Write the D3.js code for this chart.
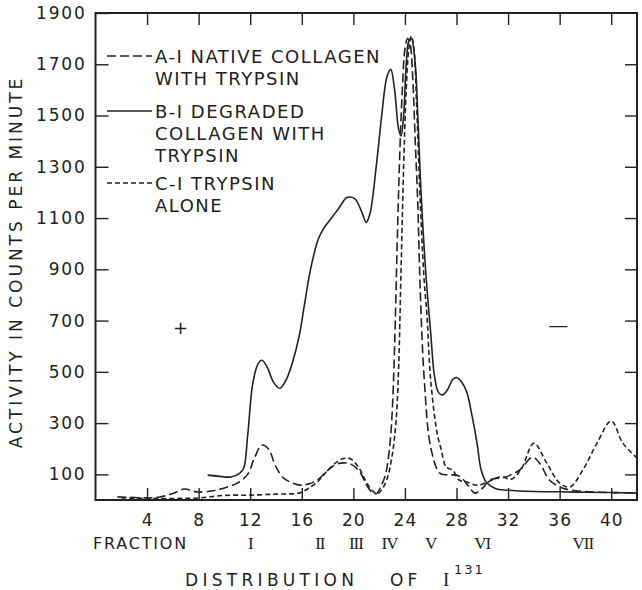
<!DOCTYPE html>
<meta charset="utf-8">
<html lang="en">
<head>
    <title>Distribution of I131</title>
    <script src="https://cdn.jsdelivr.net/npm/d3@7"></script>
</head>
<style>
    body{ margin:0; background:#fff; }
    svg{ display:block; }
    text{
        font-family: "DejaVu Sans", sans-serif;
        fill: #222;
    }
    .roman{ font-family: "Liberation Serif", "DejaVu Serif", serif; }
    .curve{ fill:none; stroke:#222; stroke-width:1.6px; }
</style>
<body>
<svg width="642" height="590"></svg>
<script>

    // axis ticks
    const xTicks = [4, 8, 12, 16, 20, 24, 28, 32, 36, 40]
    const yTicks = [100, 300, 500, 700, 900, 1100, 1300, 1500, 1700, 1900]

    // A-I native collagen with trypsin (long dash)
    const aFraction = [1.7, 3, 4, 5, 6, 6.9, 7.5, 8, 9, 10, 11, 11.8, 12.3, 12.9, 13.4, 14, 14.6, 15.3, 15.9,
        16.5, 17.2, 18, 18.7, 19.2, 19.8, 20.5, 21, 21.5, 21.8, 22.2, 22.5, 22.8, 23, 23.2, 23.4, 23.6, 23.8,
        24, 24.2, 24.4, 24.6, 24.8, 25, 25.2, 25.5, 26, 26.7, 27.3, 28, 28.4, 29, 29.4, 30, 30.6, 31.8, 32.9,
        33.9, 34.5, 35.2, 36.2, 37.5, 39, 42]
    const aCounts = [12, 10, 8, 12, 25, 43, 35, 31, 35, 47, 66, 100, 160, 214, 200, 129, 85, 66, 58,
        62, 78, 115, 140, 145, 140, 110, 60, 28, 25, 60, 100, 200, 330, 600, 1000, 1350, 1600,
        1760, 1800, 1780, 1650, 1400, 1150, 800, 470, 206, 105, 98, 97, 86, 50, 27, 45, 78, 90, 117,
        167, 140, 78, 47, 35, 30, 28]

    // B-I degraded collagen with trypsin (solid)
    const bFraction = [8.7, 9.5, 10.5, 11.2, 11.5, 11.8, 12.2, 12.6, 12.9, 13.3, 13.8, 14.3, 14.8, 15.3, 15.8,
        16.2, 16.6, 17, 17.3, 17.7, 18.3, 18.9, 19.5, 20.1, 20.6, 21, 21.3, 21.8, 22.2, 22.6, 22.9, 23.2, 23.5,
        23.7, 23.9, 24.1, 24.3, 24.5, 24.8, 25, 25.2, 25.6, 26, 26.3, 26.6, 26.9, 27.3, 27.7, 28, 28.4, 28.8,
        29.2, 29.6, 29.9, 30.3, 31, 32, 34, 36, 38, 40, 42]
    const bCounts = [97, 93, 90, 105, 125, 250, 455, 530, 545, 520, 460, 436, 470, 540, 640,
        760, 880, 970, 1020, 1060, 1100, 1140, 1180, 1176, 1130, 1083, 1120, 1313, 1500, 1650, 1680, 1600, 1450,
        1420, 1500, 1700, 1790, 1800, 1700, 1500, 1250, 900, 650, 480, 420, 410, 430, 470, 478, 460, 420,
        330, 220, 120, 70, 45, 38, 33, 32, 30, 29, 27]

    // C-I trypsin alone (short dash)
    const cFraction = [2, 4, 6, 8, 10, 12, 14, 15.5, 16, 16.5, 17.2, 18, 18.7, 19.3, 19.8, 20.5, 21, 21.5,
        21.9, 22.2, 22.6, 23, 23.3, 23.5, 23.7, 23.9, 24.1, 24.3, 24.5, 24.7, 24.9, 25.2, 25.5, 25.7, 26,
        26.5, 26.8, 27.2, 27.7, 28.2, 28.8, 29.6, 30.4, 31.4, 32.3, 33.1, 34, 35, 36, 36.8, 37.8, 38.9,
        40, 40.9, 42]
    const cCounts = [8, 6, 6, 8, 18, 19, 23, 25, 30, 45, 70, 115, 148, 163, 160, 120, 70, 35,
        25, 40, 80, 170, 300, 500, 900, 1300, 1600, 1760, 1810, 1760, 1550, 1150, 850, 728, 467,
        260, 200, 129, 117, 78, 70, 58, 70, 90, 82, 129, 222, 144, 66, 51, 117, 222,
        308, 222, 164]

    // fraction groups under the axis
    const fractionNames = ["I", "II", "III", "IV", "V", "VI", "VII"]
    const fractionAt = [12, 17.4, 20.2, 22.8, 26, 30, 37.8]

    const legendNames = [["A-I NATIVE COLLAGEN", "WITH TRYPSIN"],
        ["B-I DEGRADED", "COLLAGEN WITH", "TRYPSIN"],
        ["C-I TRYPSIN", "ALONE"]]
    const dashes = ["9,4", null, "5,3"]

    const svg = d3.select("svg")

    const x = d3.scaleLinear().domain([0, 42]).range([95.5, 637])
    const y = d3.scaleLinear().domain([0, 1900]).range([500, 13])

    // frame
    svg.append("rect")
        .attr("x", x(0)).attr("y", y(1900))
        .attr("width", x(42) - x(0)).attr("height", y(0) - y(1900))
        .attr("fill", "none").attr("stroke", "#222").attr("stroke-width", 2)

    // ticks, all pointing inward
    svg.append("g").attr("transform", `translate(0,${y(0)})`)
        .call(d3.axisBottom(x).tickValues(xTicks).tickSize(-12).tickPadding(14))
        .call(g => g.select(".domain").remove())
        .call(g => g.selectAll("text").attr("font-size", 17).attr("letter-spacing", 1))
    svg.append("g").attr("transform", `translate(0,${y(1900)})`)
        .call(d3.axisTop(x).tickValues(xTicks).tickSize(-12).tickFormat(""))
        .call(g => g.select(".domain").remove())
    svg.append("g").attr("transform", `translate(${x(0)},0)`)
        .call(d3.axisLeft(y).tickValues(yTicks).tickSize(-13).tickPadding(9).tickFormat(d3.format("d")))
        .call(g => g.select(".domain").remove())
        .call(g => g.selectAll("text").attr("font-size", 17).attr("letter-spacing", 1.8))
    svg.append("g").attr("transform", `translate(${x(42)},0)`)
        .call(d3.axisRight(y).tickValues(yTicks.filter(v => v < 1900)).tickSize(-12).tickFormat(""))
        .call(g => g.select(".domain").remove())
    svg.selectAll(".tick line").attr("stroke", "#222").attr("stroke-width", 1.4)

    // curves
    const line = d3.line().x(d => x(d[0])).y(d => y(d[1])).curve(d3.curveCatmullRom.alpha(0.5))
    const series = [
        d3.zip(aFraction, aCounts),
        d3.zip(bFraction, bCounts),
        d3.zip(cFraction, cCounts)
    ]
    svg.selectAll(".curve")
        .data(series)
        .enter()
        .append("path")
        .attr("class", "curve")
        .attr("d", line)
        .attr("stroke-dasharray", (d, i) => dashes[i])

    // legend
    const legendY = [56, 111, 183]
    legendNames.forEach(function(lines, i) {
        svg.append("line")
            .attr("x1", 107).attr("x2", 152)
            .attr("y1", legendY[i]).attr("y2", legendY[i])
            .attr("stroke", "#222").attr("stroke-width", 1.6)
            .attr("stroke-dasharray", dashes[i])
        lines.forEach(function(t, j) {
            svg.append("text")
                .attr("x", 155).attr("y", legendY[i] + j * 22 + 7)
                .attr("font-size", 18).attr("letter-spacing", 1.5)
                .text(t)
        })
    })

    // polarity marks
    svg.append("text").attr("x", x(6.6)).attr("y", y(670) + 6)
        .attr("text-anchor", "middle").attr("font-size", 18).text("+")
    svg.append("text").attr("x", x(35.9)).attr("y", y(680) + 6)
        .attr("text-anchor", "middle").attr("font-size", 20).text("—")

    // fraction row
    svg.append("text").attr("x", 93).attr("y", 549)
        .attr("font-size", 16).attr("letter-spacing", 1.8).text("FRACTION")
    svg.selectAll(".roman")
        .data(fractionNames)
        .enter()
        .append("text")
        .attr("class", "roman")
        .attr("x", (d, i) => x(fractionAt[i]))
        .attr("y", 549)
        .attr("text-anchor", "middle")
        .attr("font-size", 17)
        .attr("letter-spacing", -1)
        .text(d => d)

    // axis titles
    svg.append("text").attr("x", 185).attr("y", 586)
        .attr("font-size", 17).attr("letter-spacing", 4.3).text("DISTRIBUTION")
    svg.append("text").attr("x", 390).attr("y", 586)
        .attr("font-size", 17).attr("letter-spacing", 4).text("OF")
    svg.append("text").attr("class", "roman").attr("x", 443).attr("y", 586)
        .attr("font-size", 19).text("I")
    svg.append("text").attr("x", 454).attr("y", 574)
        .attr("font-size", 13).attr("letter-spacing", 2).text("131")

    svg.append("text")
        .attr("transform", "translate(22,262) rotate(-90)")
        .attr("text-anchor", "middle")
        .attr("font-size", 17).attr("letter-spacing", 3)
        .text("ACTIVITY IN COUNTS PER MINUTE")
</script>
</body>
</html>
